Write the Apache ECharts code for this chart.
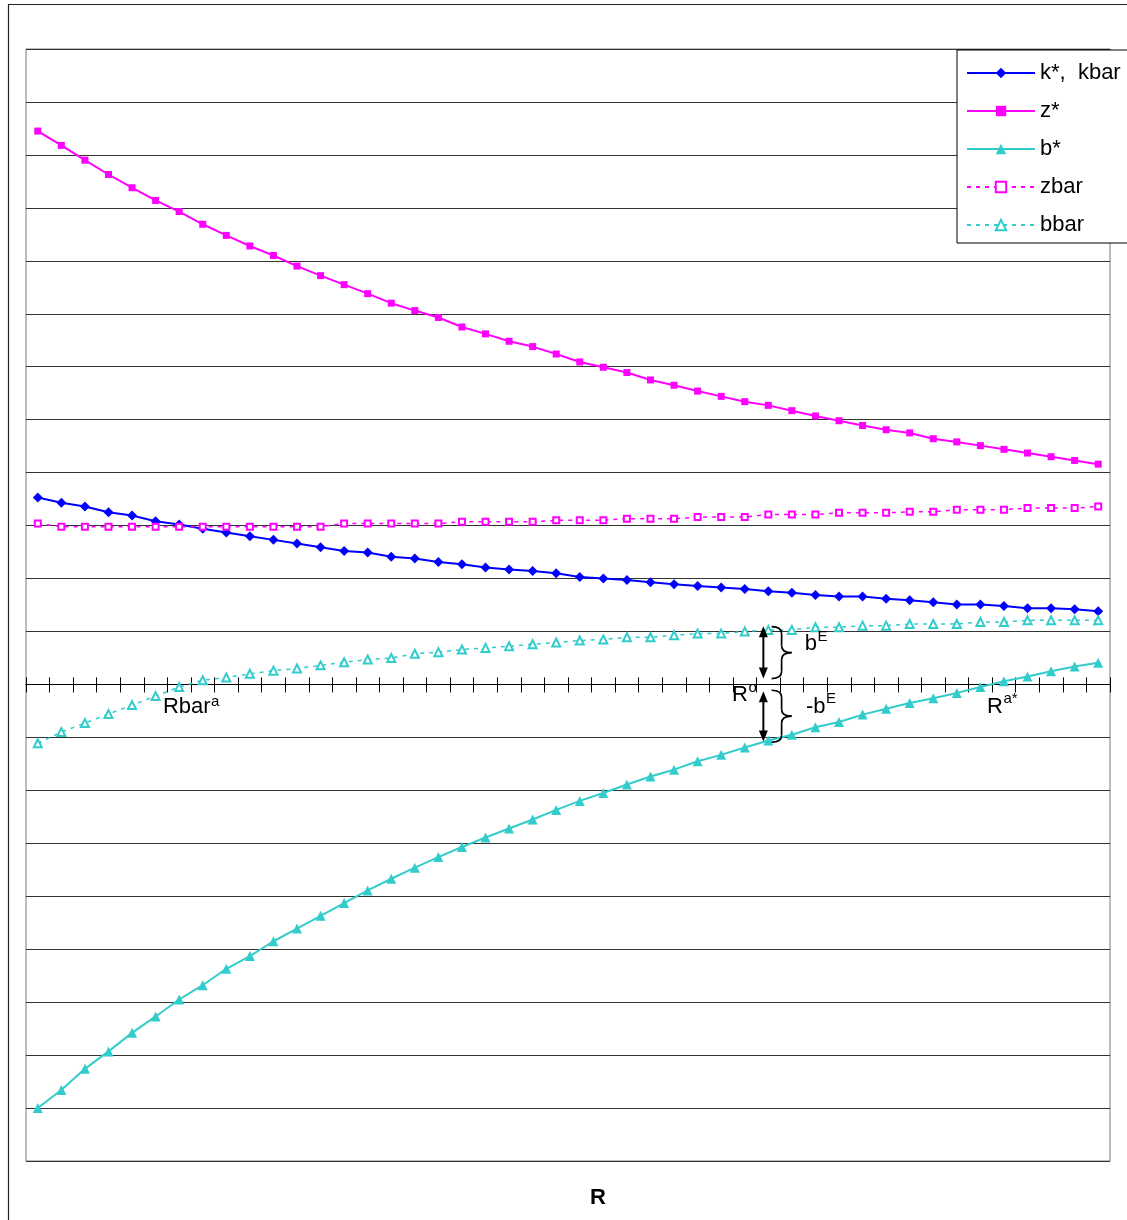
<!DOCTYPE html>
<html>
<head>
<meta charset="utf-8">
<script src="https://cdn.jsdelivr.net/npm/echarts@6/dist/echarts.min.js"></script>
<style>
html,body{margin:0;padding:0;background:#fff;}
#main{width:1127px;height:1220px;}
</style>
</head>
<body>
<div id="main"></div>
<script>
// ---- data ----
const categories = ['1','2','3','4','5','6','7','8','9','10','11','12','13','14','15','16','17','18','19','20','21','22','23','24','25','26','27','28','29','30','31','32','33','34','35','36','37','38','39','40','41','42','43','44','45','46'];
const seriesNames = ['k*,  kbar', 'z*', 'b*', 'zbar', 'bbar'];
const kStar = [3.53,3.43,3.36,3.25,3.19,3.08,3.02,2.94,2.87,2.80,2.73,2.66,2.59,2.52,2.49,2.41,2.38,2.31,2.27,2.21,2.17,2.14,2.10,2.03,2.00,1.97,1.93,1.89,1.86,1.83,1.80,1.76,1.73,1.69,1.66,1.66,1.62,1.59,1.55,1.51,1.51,1.48,1.44,1.44,1.42,1.38];
const zStar = [10.45,10.18,9.90,9.63,9.38,9.14,8.93,8.69,8.48,8.28,8.10,7.90,7.72,7.55,7.38,7.20,7.06,6.93,6.75,6.62,6.48,6.38,6.24,6.09,5.99,5.89,5.75,5.65,5.54,5.44,5.34,5.27,5.17,5.07,4.98,4.89,4.81,4.75,4.64,4.58,4.51,4.44,4.37,4.30,4.23,4.16];
const bStar = [-8.00,-7.66,-7.26,-6.93,-6.58,-6.27,-5.95,-5.68,-5.37,-5.13,-4.85,-4.61,-4.37,-4.13,-3.89,-3.67,-3.46,-3.26,-3.07,-2.89,-2.72,-2.55,-2.37,-2.20,-2.05,-1.89,-1.74,-1.61,-1.45,-1.33,-1.19,-1.06,-0.95,-0.81,-0.71,-0.57,-0.46,-0.35,-0.26,-0.16,-0.05,0.06,0.15,0.25,0.34,0.41];
const zBar = [3.04,2.98,2.98,2.98,2.98,2.98,2.98,2.98,2.98,2.98,2.98,2.98,2.98,3.04,3.04,3.04,3.04,3.04,3.07,3.07,3.07,3.07,3.10,3.10,3.10,3.13,3.13,3.13,3.16,3.16,3.16,3.21,3.21,3.21,3.24,3.24,3.24,3.26,3.26,3.30,3.30,3.30,3.33,3.33,3.33,3.36];
const bBar = [-1.11,-0.90,-0.73,-0.56,-0.39,-0.22,-0.05,0.08,0.13,0.20,0.26,0.30,0.36,0.42,0.47,0.50,0.58,0.61,0.66,0.69,0.72,0.76,0.79,0.83,0.85,0.89,0.89,0.93,0.96,0.96,1.00,1.03,1.03,1.08,1.08,1.11,1.11,1.14,1.14,1.14,1.18,1.18,1.21,1.21,1.21,1.21];
const yMin = -9, yMax = 12, yStep = 1;
const xAxisTitle = 'R';

// ---- chart ----
const FONT = '"Liberation Sans", Arial, sans-serif';
const BLUE = '#0000FF', MAG = '#FF00FF', TURQ = '#33CCCC';
const chart = echarts.init(document.getElementById('main'), null, {renderer: 'canvas'});

function catAxis(pos, tickLen) {
  return {
    type: 'category', data: categories, position: pos, boundaryGap: true,
    axisLine: {show: true, onZero: true, onZeroAxisIndex: 0, lineStyle: {color: '#000', width: 1}},
    axisTick: {show: true, interval: 0, length: tickLen, inside: false, lineStyle: {color: '#000', width: 1}},
    axisLabel: {show: false}, splitLine: {show: false}
  };
}

chart.setOption({
  animation: false,
  backgroundColor: '#fff',
  grid: {left: 26, top: 49, right: 17, bottom: 59, show: true, borderColor: '#7a7a7a', borderWidth: 1, containLabel: false},
  xAxis: [catAxis('bottom', 8), catAxis('top', 7)],
  yAxis: {
    type: 'value', min: yMin, max: yMax, interval: yStep,
    axisLine: {show: false}, axisTick: {show: false}, axisLabel: {show: false},
    splitLine: {show: true, lineStyle: {color: '#333', width: 1}}
  },
  legend: {
    orient: 'vertical', left: 957, top: 50,
    padding: [12, 40, 7, 9], itemWidth: 68, itemHeight: 13, itemGap: 16,
    backgroundColor: '#fff', borderColor: '#000', borderWidth: 1,
    textStyle: {fontSize: 22, color: '#000', fontFamily: FONT},
    data: seriesNames
  },
  series: [
    {name: seriesNames[0], type: 'line', data: kStar, symbol: 'diamond', symbolSize: 10,
     lineStyle: {color: BLUE, width: 2}, itemStyle: {color: BLUE}},
    {name: seriesNames[1], type: 'line', data: zStar, symbol: 'rect', symbolSize: 7,
     lineStyle: {color: MAG, width: 2}, itemStyle: {color: MAG}},
    {name: seriesNames[2], type: 'line', data: bStar, symbol: 'triangle', symbolSize: 10,
     lineStyle: {color: TURQ, width: 2}, itemStyle: {color: TURQ}},
    {name: seriesNames[3], type: 'line', data: zBar, symbol: 'emptyRect', symbolSize: 6,
     lineStyle: {color: MAG, width: 1.5, type: [4, 5]}, itemStyle: {color: MAG, borderWidth: 1.5}},
    {name: seriesNames[4], type: 'line', data: bBar, symbol: 'emptyTriangle', symbolSize: 8,
     lineStyle: {color: TURQ, width: 1.5, type: [4, 5]}, itemStyle: {color: TURQ, borderWidth: 1.5}}
  ]
});

// ---- annotations positioned through the axes ----
function P(i, v) {
  const i0 = Math.floor(i);
  const a = chart.convertToPixel({xAxisIndex: 0, yAxisIndex: 0}, [i0, v]);
  const b = chart.convertToPixel({xAxisIndex: 0, yAxisIndex: 0}, [i0 + 1, v]);
  return [a[0] + (b[0] - a[0]) * (i - i0), a[1]];
}
const measure = (() => {
  const c = document.createElement('canvas').getContext('2d');
  return (t, f) => { c.font = f; return c.measureText(t).width; };
})();
const MAINF = 22, SUPF = 15;
function supLabel(i, v, main, sup, raise) {
  const p = P(i, v);
  const w = measure(main, MAINF + 'px ' + FONT);
  return [
    {type: 'text', z: 100, style: {x: p[0], y: p[1], text: main, fontSize: MAINF, fontFamily: FONT, fill: '#000', align: 'left', verticalAlign: 'bottom'}},
    {type: 'text', z: 100, style: {x: p[0] + w + 0.5, y: p[1] - raise, text: sup, fontSize: SUPF, fontFamily: FONT, fill: '#000', align: 'left', verticalAlign: 'bottom'}}
  ];
}
function vArrow(i, vTop, vBot) {
  const t = P(i, vTop), b = P(i, vBot);
  const x = t[0], hw = 4.5, hh = 11;
  return [
    {type: 'line', z: 100, shape: {x1: x, y1: t[1] + hh - 1, x2: x, y2: b[1] - hh + 1}, style: {stroke: '#000', lineWidth: 2}},
    {type: 'polygon', z: 100, shape: {points: [[x, t[1]], [x - hw, t[1] + hh], [x + hw, t[1] + hh]]}, style: {fill: '#000'}},
    {type: 'polygon', z: 100, shape: {points: [[x, b[1]], [x - hw, b[1] - hh], [x + hw, b[1] - hh]]}, style: {fill: '#000'}}
  ];
}
function brace(i, vTop, vBot, w) {
  const t = P(i, vTop), b = P(i, vBot);
  const x0 = t[0], y0 = t[1], y1 = b[1], ym = (y0 + y1) / 2, xm = x0 + w / 2, r = 7;
  const st = {stroke: '#000', lineWidth: 1.7, fill: null};
  const q = (x1, y1, cx, cy, x2, y2) => ({type: 'bezierCurve', z: 100, shape: {x1: x1, y1: y1, cpx1: cx, cpy1: cy, x2: x2, y2: y2}, style: st});
  const l = (x1, y1, x2, y2) => ({type: 'line', z: 100, shape: {x1: x1, y1: y1, x2: x2, y2: y2}, style: st});
  return [
    q(x0, y0, xm, y0, xm, y0 + r),
    l(xm, y0 + r, xm, ym - r),
    q(xm, ym - r, xm, ym, x0 + w, ym),
    q(x0 + w, ym, xm, ym, xm, ym + r),
    l(xm, ym + r, xm, y1 - r),
    q(xm, y1 - r, xm, y1, x0, y1)
  ];
}

const grid = chart.getModel().getComponent('grid').coordinateSystem.getRect();
const graphics = [].concat(
  [{type: 'rect', z: -10, silent: true, shape: {x: 8.5, y: 4.5, width: 1300, height: 1400}, style: {fill: null, stroke: '#222', lineWidth: 1.2}}],
  supLabel(5.31, -0.64, 'Rbar', 'a', 9),
  supLabel(29.46, -0.40, 'R', 'o', 10),
  supLabel(32.55, 0.55, 'b', 'E', 11),
  supLabel(32.60, -0.64, '-b', 'E', 12),
  supLabel(40.28, -0.64, 'R', 'a*', 12),
  vArrow(30.79, 1.10, 0.11),
  vArrow(30.79, -0.13, -1.08),
  brace(31.14, 1.09, 0.11, 20),
  brace(31.14, -0.11, -1.09, 20),
  [{type: 'text', z: 100, style: {x: 598, y: grid.y + grid.height + 37, text: xAxisTitle, fontSize: 22, fontWeight: 'bold', fontFamily: FONT, fill: '#000', align: 'center', verticalAlign: 'middle'}}]
);
chart.setOption({graphic: graphics});
</script>
</body>
</html>
